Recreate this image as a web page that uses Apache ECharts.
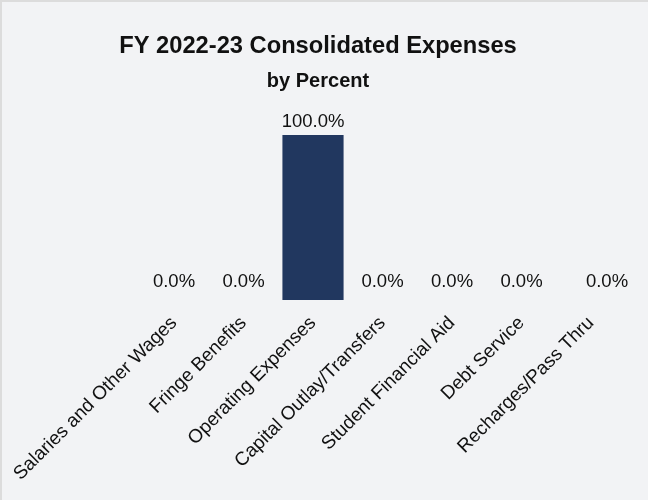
<!DOCTYPE html>
<html>
<head>
<meta charset="utf-8">
<script src="https://cdn.jsdelivr.net/npm/echarts@6/dist/echarts.min.js"></script>
<style>
  html, body { margin: 0; padding: 0; background: #f2f3f5; }
  #chart {
    width: 646px; height: 498px;
    border-top: 2px solid #dcdcdc;
    border-left: 2px solid #dcdcdc;
    background: #f2f3f5;
  }
</style>
</head>
<body>
<div id="chart"></div>
<script>
// Expense categories and their share of the total (percent)
const categories = [
  'Salaries and Other Wages',
  'Fringe Benefits',
  'Operating Expenses',
  'Capital Outlay/Transfers',
  'Student Financial Aid',
  'Debt Service',
  'Recharges/Pass Thru'
];
const percentValues = [0.0, 0.0, 100.0, 0.0, 0.0, 0.0, 0.0];

const titleText = 'FY 2022-23 Consolidated Expenses';
const subtitleText = 'by Percent';

const FONT = '"Liberation Sans", Arial, Helvetica, sans-serif';
const BAR_COLOR = '#21375f';

// the final value label sits a little to the right of its bar
const labelOffsets = { 6: [16, 0] };

const seriesData = percentValues.map((v, i) => ({
  value: v,
  label: {
    distance: v === 0 ? 9 : 4,
    offset: labelOffsets[i] || [0, 0]
  }
}));

const chart = echarts.init(document.getElementById('chart'), null, { renderer: 'canvas' });

chart.setOption({
  backgroundColor: '#f2f3f5',
  animation: false,
  title: [
    {
      text: titleText,
      left: 311,
      top: 27,
      textAlign: 'center',
      textStyle: { fontFamily: FONT, fontSize: 23.7, fontWeight: 'bold', color: '#111111' }
    },
    {
      text: subtitleText,
      left: 311,
      top: 64,
      textAlign: 'center',
      textStyle: { fontFamily: FONT, fontSize: 20, fontWeight: 'bold', color: '#111111' }
    }
  ],
  grid: { left: 137.25, right: 22.25, top: 133, bottom: 200, containLabel: false },
  xAxis: {
    type: 'category',
    data: categories,
    axisLine: { show: false },
    axisTick: { show: false },
    axisLabel: {
      rotate: 45,
      interval: 0,
      margin: 20,
      fontFamily: FONT,
      fontSize: 19,
      color: '#111111'
    }
  },
  yAxis: {
    type: 'value',
    min: 0,
    max: 100,
    show: false
  },
  series: [{
    type: 'bar',
    data: seriesData,
    barCategoryGap: '12%',
    itemStyle: { color: BAR_COLOR },
    label: {
      show: true,
      position: 'top',
      formatter: p => p.value.toFixed(1) + '%',
      fontFamily: FONT,
      fontSize: 18.5,
      color: '#111111'
    }
  }]
});
</script>
</body>
</html>
